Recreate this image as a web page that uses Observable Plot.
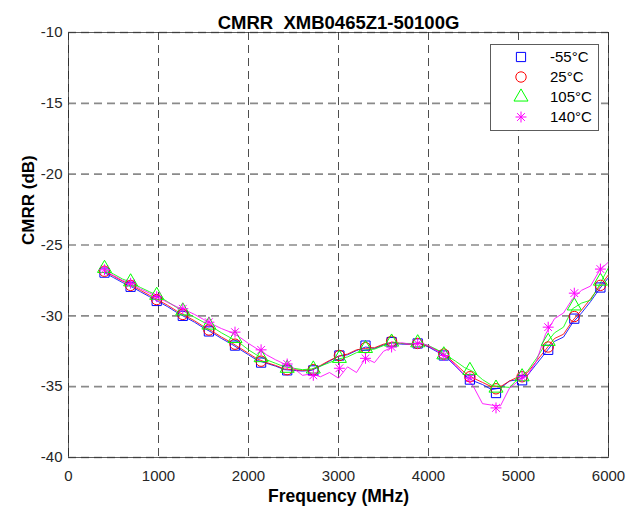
<!DOCTYPE html>
<html>
<head>
<meta charset="utf-8">
<script src="https://cdn.jsdelivr.net/npm/d3@7"></script>
<script src="https://cdn.jsdelivr.net/npm/@observablehq/plot@0.6"></script>
<style>
  html, body { margin: 0; padding: 0; background: #fff; }
</style>
</head>
<body>
<div id="chart"></div>
<script>
const titleText = "CMRR  XMB0465Z1-50100G";
const xLabel = "Frequency (MHz)";
const yLabel = "CMRR (dB)";
const xTicks = [0, 1000, 2000, 3000, 4000, 5000, 6000];
const yTicks = [-40, -35, -30, -25, -20, -15, -10];
const seriesNames = ["-55°C", "25°C", "105°C", "140°C"];
const seriesColors = ["#0000ff", "#ff0000", "#00ff00", "#ff00ff"];

const freq = [400,500,600,700,800,900,1000,1100,1200,1300,1400,1500,1600,1700,1800,1900,2000,2100,2200,2300,2400,2500,2600,2700,2800,2900,3000,3100,3200,3300,3400,3500,3600,3700,3800,3900,4000,4100,4200,4300,4400,4500,4600,4700,4800,4900,5000,5100,5200,5300,5400,5500,5600,5700,5800,5900,6000];

const lineM55 = [-26.95,-27.3,-27.65,-27.95,-28.3,-28.65,-29.0,-29.35,-29.75,-30.1,-30.45,-30.85,-31.2,-31.6,-31.95,-32.35,-32.75,-33.15,-33.35,-33.55,-33.8,-33.85,-33.9,-33.85,-33.55,-33.2,-32.85,-32.75,-32.45,-32.2,-32.3,-32.05,-31.9,-32.0,-32.0,-31.95,-32.2,-32.55,-32.95,-33.55,-34.2,-34.6,-34.85,-35.2,-35.1,-34.6,-34.5,-34.2,-33.4,-32.6,-31.8,-31.5,-30.5,-29.8,-29.0,-28.1,-27.3];
const line25 = [-26.85,-27.2,-27.55,-27.85,-28.2,-28.55,-28.9,-29.25,-29.65,-30.0,-30.35,-30.75,-31.1,-31.5,-31.85,-32.25,-32.65,-33.05,-33.3,-33.5,-33.75,-33.8,-33.85,-33.8,-33.5,-33.15,-32.85,-32.7,-32.4,-32.3,-32.25,-32.0,-31.85,-31.95,-32.0,-31.95,-32.15,-32.45,-32.85,-33.4,-34.0,-34.4,-34.7,-35.0,-35.0,-34.6,-34.3,-34.0,-33.2,-32.4,-31.6,-31.3,-30.35,-29.6,-28.8,-27.95,-27.1];
const line105 = [-26.7,-27.05,-27.4,-27.65,-28.0,-28.3,-28.6,-29.0,-29.4,-29.75,-30.1,-30.45,-30.8,-31.2,-31.55,-31.9,-32.4,-32.8,-33.1,-33.35,-33.6,-33.7,-33.8,-33.75,-33.55,-33.3,-33.05,-32.9,-32.6,-32.4,-32.35,-32.1,-31.9,-31.95,-31.95,-31.9,-32.1,-32.4,-32.8,-33.2,-33.65,-33.95,-34.5,-34.9,-35.0,-35.05,-34.4,-33.9,-33.0,-32.0,-31.2,-30.8,-29.5,-29.1,-28.9,-27.8,-26.6];
const line140 = [-26.8,-27.15,-27.5,-27.75,-28.1,-28.4,-28.7,-29.05,-29.35,-29.6,-29.9,-30.25,-30.6,-30.9,-31.15,-31.5,-31.95,-32.35,-32.75,-33.1,-33.4,-33.7,-34.2,-34.1,-34.3,-34.0,-34.4,-33.6,-34.0,-33.0,-33.3,-32.5,-32.2,-31.9,-32.0,-31.9,-32.1,-32.5,-32.9,-33.5,-34.2,-35.0,-36.2,-36.3,-36.35,-35.1,-34.6,-34.2,-33.2,-31.3,-30.2,-29.8,-28.8,-28.2,-27.9,-26.8,-26.2];

const markFreq = [400,690,980,1270,1560,1850,2140,2430,2720,3010,3300,3590,3880,4170,4460,4750,5040,5330,5620,5910];
const markM55 = [-26.95,-27.95,-28.95,-30.0,-31.1,-32.1,-33.3,-33.85,-33.85,-32.8,-32.1,-31.85,-31.95,-32.8,-34.5,-35.45,-34.55,-32.4,-30.2,-28.0];
const mark25 = [-26.85,-27.85,-28.85,-29.9,-31.0,-32.0,-33.2,-33.8,-33.8,-32.8,-32.25,-31.8,-31.95,-32.7,-34.3,-35.15,-34.3,-32.2,-30.05,-27.85];
const mark105 = [-26.65,-27.6,-28.55,-29.65,-30.65,-31.6,-32.95,-33.7,-33.75,-33.0,-32.3,-31.85,-31.9,-32.75,-33.85,-35.1,-34.3,-31.8,-29.3,-27.55];
const mark140 = [-26.75,-27.7,-28.65,-29.5,-30.45,-31.15,-32.4,-33.4,-34.2,-33.7,-33.0,-32.2,-31.95,-32.8,-34.4,-36.5,-34.3,-30.8,-28.4,-26.7];

const asterisk = {
  draw(ctx, size) {
    const r = Math.sqrt(size / Math.PI) * 1.05;
    const d = r * Math.SQRT1_2;
    ctx.moveTo(-r, 0); ctx.lineTo(r, 0);
    ctx.moveTo(0, -r); ctx.lineTo(0, r);
    ctx.moveTo(-d, -d); ctx.lineTo(d, d);
    ctx.moveTo(-d, d); ctx.lineTo(d, -d);
  }
};
const seriesSymbols = [d3.symbolSquare, d3.symbolCircle, d3.symbolTriangle, asterisk];
const markerR = 5.2;

const lineSets = [lineM55, line25, line105, line140];
const markSets = [markM55, mark25, mark105, mark140];
const lineData = [];
lineSets.forEach((vals, i) => vals.forEach((v, j) => lineData.push({f: freq[j], v, s: seriesNames[i]})));
const markData = [];
markSets.forEach((vals, i) => vals.forEach((v, j) => markData.push({f: markFreq[j], v, s: seriesNames[i]})));

const font = "'Liberation Sans', Arial, Helvetica, sans-serif";
const fmt = d => String(d);

const marks = [
  Plot.gridX(xTicks, {stroke: "#3a3a3a", strokeOpacity: 0.9, strokeDasharray: "8,5", strokeWidth: 1}),
  Plot.gridY(yTicks, {stroke: "#8a8a8a", strokeOpacity: 1, strokeDasharray: "8,5", strokeWidth: 1.6}),
  Plot.axisX(xTicks, {anchor: "bottom", tickSize: 0, tickPadding: 13, label: null, fontSize: 15, tickFormat: fmt}),
  Plot.axisY(yTicks, {anchor: "left", tickSize: 0, tickPadding: 6, label: null, fontSize: 15, tickFormat: fmt}),
];
seriesNames.forEach((name, i) => {
  marks.push(Plot.line(lineData.filter(d => d.s === name), {x: "f", y: "v", stroke: seriesColors[i], strokeWidth: 1, strokeOpacity: 0.85}));
});
seriesNames.forEach((name, i) => {
  marks.push(Plot.dot(markData.filter(d => d.s === name), {x: "f", y: "v", stroke: seriesColors[i], fill: "none", r: markerR, strokeWidth: 1, symbol: () => seriesSymbols[i]}));
});
marks.push(
  Plot.frame({stroke: "#262626", strokeOpacity: 0.75, strokeWidth: 1}),
  Plot.text([titleText], {frameAnchor: "top", dy: -17, fontWeight: "bold", fontSize: 18.5, fill: "#000"}),
  Plot.text([xLabel], {frameAnchor: "bottom", dy: 44, fontWeight: "bold", fontSize: 17.5, fill: "#000"}),
  Plot.text([yLabel], {frameAnchor: "left", dx: -40, rotate: -90, fontWeight: "bold", fontSize: 17, fill: "#000"})
);

const svg = Plot.plot({
  width: 639,
  height: 515,
  marginLeft: 68,
  marginRight: 31,
  marginTop: 32,
  marginBottom: 58,
  style: {fontFamily: font, fontSize: "15px", color: "#262626", background: "#fff"},
  x: {domain: [0, 6000]},
  y: {domain: [-40, -10]},
  symbol: {type: "identity"},
  marks
});

// legend
const lg = d3.select(svg).append("g").attr("font-family", font).attr("font-size", 15).attr("text-anchor", "start");
lg.append("rect").attr("x", 490.5).attr("y", 44.5).attr("width", 108).attr("height", 86)
  .attr("fill", "#fff").attr("stroke", "#262626").attr("stroke-opacity", 0.75);
seriesNames.forEach((name, i) => {
  const cy = 57 + i * 20;
  lg.append("path")
    .attr("transform", `translate(521,${cy})`)
    .attr("d", d3.symbol(seriesSymbols[i], Math.PI * markerR * markerR)())
    .attr("fill", "none").attr("stroke", seriesColors[i]).attr("stroke-width", 1);
  lg.append("text").attr("x", 550).attr("y", cy).attr("dy", "0.35em").attr("text-anchor", "start").attr("fill", "#000").text(name);
});

document.getElementById("chart").appendChild(svg);
</script>
</body>
</html>
